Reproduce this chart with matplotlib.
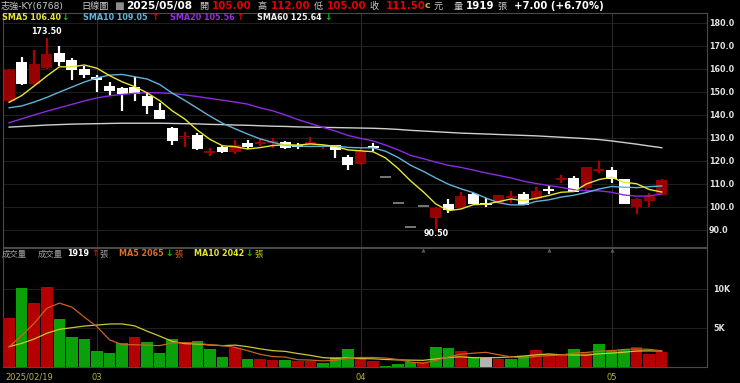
import numpy as np
import matplotlib
matplotlib.use("Agg")
import matplotlib.pyplot as plt
from matplotlib.transforms import blended_transform_factory

plt.rcParams['font.family'] = ['DejaVu Sans', 'Noto Sans CJK TC']

# ---------------- data ----------------
dates = ["2025/02/19", "2025/02/20", "2025/02/21", "2025/02/24", "2025/02/25", "2025/02/26", "2025/02/27",
         "2025/03/03", "2025/03/04", "2025/03/05", "2025/03/06", "2025/03/07", "2025/03/10", "2025/03/11",
         "2025/03/12", "2025/03/13", "2025/03/14", "2025/03/17", "2025/03/18", "2025/03/19", "2025/03/20",
         "2025/03/21", "2025/03/24", "2025/03/25", "2025/03/26", "2025/03/27", "2025/03/28", "2025/03/31",
         "2025/04/01", "2025/04/02", "2025/04/07", "2025/04/08", "2025/04/09", "2025/04/10", "2025/04/11",
         "2025/04/14", "2025/04/15", "2025/04/16", "2025/04/17", "2025/04/18", "2025/04/21", "2025/04/22",
         "2025/04/23", "2025/04/24", "2025/04/25", "2025/04/28", "2025/04/29", "2025/04/30", "2025/05/02",
         "2025/05/05", "2025/05/06", "2025/05/07", "2025/05/08"]

opens = [146.0, 163.0, 153.2, 160.2, 167.0, 163.6, 160.0, 156.3, 152.6, 151.7, 151.9, 148.0, 142.0, 134.1,
         130.2, 131.2, 123.7, 126.1, 123.7, 127.6, 127.5, 128.0, 128.3, 126.4, 127.0, 126.0, 126.8, 121.5,
         118.5, 126.2, 113.0, 101.5, 91.4, 100.5, 95.0, 101.2, 99.3, 105.5, 101.4, 101.8, 104.2, 105.5,
         103.2, 107.3, 111.7, 112.6, 108.0, 115.5, 116.0, 112.0, 99.8, 102.5, 105.0]
highs = [160.0, 165.0, 168.0, 173.5, 170.0, 164.5, 161.0, 157.3, 154.0, 152.0, 156.5, 150.0, 145.2, 134.8,
         132.6, 132.0, 125.7, 126.3, 129.0, 129.0, 129.7, 130.0, 128.5, 127.6, 130.2, 127.4, 127.0, 122.5,
         125.4, 127.6, 113.0, 101.5, 91.4, 100.5, 99.8, 103.2, 106.5, 105.8, 103.6, 105.3, 107.0, 106.2,
         108.5, 109.0, 113.8, 113.5, 117.2, 120.0, 117.4, 112.2, 103.9, 106.0, 112.0]
lows = [145.5, 153.0, 153.0, 160.0, 161.0, 155.0, 156.0, 150.0, 148.3, 141.6, 146.0, 140.2, 138.0, 127.0,
        125.8, 124.7, 122.0, 123.2, 123.0, 125.1, 126.4, 125.7, 125.2, 125.1, 126.8, 125.2, 121.0, 116.0,
        118.3, 124.3, 113.0, 101.5, 91.4, 100.5, 90.5, 97.4, 99.2, 101.0, 99.7, 101.5, 101.8, 100.6,
        103.0, 105.6, 110.2, 106.3, 106.5, 114.5, 110.4, 101.0, 96.8, 100.0, 105.0]
closes = [159.5, 153.5, 162.0, 166.3, 162.8, 159.4, 157.3, 155.2, 150.4, 149.0, 149.2, 143.8, 138.0, 128.7,
          130.8, 125.1, 124.1, 123.7, 126.8, 125.9, 128.0, 128.4, 125.4, 126.2, 128.3, 126.3, 124.7, 118.1,
          124.3, 125.9, 113.0, 101.5, 91.4, 100.5, 99.6, 98.6, 104.7, 101.2, 101.2, 105.1, 104.6, 100.8,
          106.7, 107.1, 112.1, 106.5, 117.1, 116.2, 112.2, 101.2, 103.2, 104.5, 111.5]

sma5 = [145.4, 148.3, 152.5, 156.8, 160.8, 160.8, 161.6, 160.2, 157.0, 154.3, 152.2, 149.5, 146.1, 141.7,
        138.1, 133.3, 129.3, 126.5, 126.1, 125.1, 125.7, 126.6, 126.9, 126.8, 127.3, 126.9, 126.2, 124.7,
        124.3, 123.9, 121.2, 116.6, 111.2, 106.5, 101.2, 98.3, 99.0, 100.9, 101.1, 102.2, 103.4, 102.6,
        103.7, 104.9, 106.3, 106.6, 109.9, 111.8, 112.8, 110.6, 110.0, 107.5, 106.4]
sma10 = [143.0, 143.8, 145.5, 147.5, 149.8, 152.0, 154.2, 156.0, 157.2, 157.5, 156.5, 155.5, 153.1, 149.4,
         146.2, 142.8, 139.4, 136.3, 133.9, 131.6, 129.5, 128.0, 126.7, 126.4, 126.2, 126.3, 126.4, 125.8,
         125.6, 125.6, 124.1, 121.4, 118.0, 115.4, 112.5, 109.8, 107.8, 106.1, 103.8, 101.7, 100.8, 100.8,
         102.3, 103.0, 104.2, 105.0, 106.2, 107.7, 108.8, 108.5, 108.3, 108.7, 109.05]
sma20 = [136.5, 138.2, 139.9, 141.5, 143.0, 144.5, 146.0, 147.3, 148.2, 148.8, 149.3, 149.6, 149.5, 149.2,
         148.6, 147.9, 147.1, 146.3, 145.5, 144.6, 143.0, 141.7, 139.9, 137.9, 136.2, 134.5, 132.9, 131.0,
         129.7, 128.6, 126.8, 124.7, 122.3, 120.9, 119.4, 118.0, 117.1, 115.9, 114.7, 113.6, 112.5, 111.1,
         110.1, 109.2, 108.4, 107.4, 107.0, 106.9, 106.3, 105.1, 104.6, 104.7, 105.56]
sma60 = [134.6, 134.9, 135.2, 135.5, 135.7, 135.9, 136.0, 136.1, 136.2, 136.3, 136.3, 136.3, 136.3, 136.2,
         136.1, 136.0, 135.8, 135.7, 135.5, 135.4, 135.2, 135.0, 134.9, 134.7, 134.6, 134.5, 134.4, 134.3,
         134.2, 134.1, 133.9, 133.6, 133.2, 132.9, 132.6, 132.3, 132.0, 131.8, 131.6, 131.4, 131.2, 131.0,
         130.8, 130.5, 130.2, 129.9, 129.6, 129.2, 128.6, 127.9, 127.2, 126.4, 125.64]

volume = [6320, 10090, 8170, 10220, 6150, 3800, 3590, 2090, 1790, 3030, 3800, 3250, 1840, 3550, 3160, 3380,
          2310, 1280, 2480, 1030, 1030, 900, 900, 810, 810, 510, 1240, 2310, 1220, 810, 130, 350, 600, 580,
          2560, 2390, 2090, 1240, 1110, 1030, 1030, 1430, 2180, 1620, 1450, 2250, 1840, 2950, 2000, 2200,
          2550, 1650, 1919]
vol_ma5 = [2600, 4000, 5600, 7520, 8190, 7686, 6386, 5170, 3484, 2860, 2860, 2792, 2742, 3094, 3120, 3036,
           2848, 2736, 2522, 2096, 1626, 1344, 1268, 934, 890, 786, 854, 1136, 1218, 1218, 1142, 964, 622,
           494, 844, 1296, 1644, 1772, 1878, 1572, 1300, 1168, 1356, 1458, 1542, 1786, 1868, 2022, 2098,
           2248, 2308, 2270, 2065]
vol_ma10 = [2600, 3030, 3590, 4320, 4830, 5040, 5250, 5380, 5510, 5525, 5273, 4589, 3956, 3289, 2990, 2948,
            2820, 2739, 2808, 2608, 2331, 2096, 2002, 1728, 1493, 1206, 1099, 1202, 1076, 1054, 964, 909, 879,
            856, 1031, 1219, 1304, 1197, 1186, 1208, 1298, 1406, 1564, 1668, 1557, 1543, 1518, 1689, 1778,
            1895, 2047, 2069, 2042]

price_ticks = [90, 100, 110, 120, 130, 140, 150, 160, 170, 180]
vol_ticks = [5000, 10000]
vol_tick_labels = ["5K", "10K"]

# ---------------- figure ----------------
W, H = 740, 383
fig = plt.figure(figsize=(W / 100, H / 100), dpi=100, facecolor='black')


def fx(px):
    return px / W


def fy(py):
    return 1 - py / H


def T(x, y, s, color, size, weight='normal', ha='left'):
    fig.text(fx(x), fy(y), s, color=color, fontsize=size, fontweight=weight,
             ha=ha, va='center')


n = len(closes)
idx = np.arange(n)
x_left = (3 - 9.1) / 12.55
x_right = (707 - 9.1) / 12.55

ax_p = fig.add_axes([fx(3), fy(247), (707 - 3) / W, (247 - 13) / H], facecolor='black')
ax_v = fig.add_axes([fx(3), fy(367), (707 - 3) / W, (367 - 248) / H], facecolor='black')

for ax in (ax_p, ax_v):
    ax.set_xlim(x_left, x_right)
    for sp in ax.spines.values():
        sp.set_color('#4a4a4a')
        sp.set_linewidth(0.8)
    ax.set_xticks([])

ax_p.set_ylim(82.5, 184.2)
ax_v.set_ylim(0, 15256)

# month gridlines
month_idx = [0] + [i for i in range(1, n) if dates[i][5:7] != dates[i - 1][5:7]]
for i in month_idx[1:]:
    ax_p.axvline(i, color='#2e2e2e', lw=0.7, zorder=0)
    ax_v.axvline(i, color='#2e2e2e', lw=0.7, zorder=0)

# price grid & labels
ax_p.set_yticks(price_ticks)
ax_p.set_yticklabels([f"{t:.1f}" for t in price_ticks])
ax_p.yaxis.tick_right()
ax_p.tick_params(axis='y', length=0, pad=1.2, labelcolor='#e0e0e0', labelsize=5.8)
for lbl in ax_p.get_yticklabels():
    lbl.set_fontweight('bold')
ax_p.grid(axis='y', color='#262626', lw=0.6, zorder=0)

ax_v.set_yticks(vol_ticks)
ax_v.set_yticklabels(vol_tick_labels)
ax_v.yaxis.tick_right()
ax_v.tick_params(axis='y', length=0, pad=4.5, labelcolor='#e0e0e0', labelsize=5.8)
for lbl in ax_v.get_yticklabels():
    lbl.set_fontweight('bold')
ax_v.grid(axis='y', color='#262626', lw=0.6, zorder=0)

# candles
UP = '#960000'
DOWN = '#ffffff'
for i in range(n):
    o, h, l, c = opens[i], highs[i], lows[i], closes[i]
    if o == c and h == l:
        ax_p.hlines(c, i - 0.45, i + 0.45, color='#8c8c8c', lw=1.2, zorder=3)
        continue
    col = UP if c > o else DOWN
    ax_p.vlines(i, l, h, color=('#b00000' if c > o else DOWN), lw=1.6, zorder=3)
    body = abs(c - o)
    bottom = min(o, c)
    if body < 0.8:
        bottom = (o + c) / 2 - 0.4
        body = 0.8
    ax_p.bar(i, body, bottom=bottom, width=0.88, color=col, edgecolor=col, lw=0, zorder=4)

# moving averages
ax_p.plot(idx, sma60, color='#d0d0d0', lw=1.0, zorder=5)
ax_p.plot(idx, sma20, color='#8a2be2', lw=1.0, zorder=5)
ax_p.plot(idx, sma10, color='#5fb4d8', lw=1.0, zorder=5)
ax_p.plot(idx, sma5, color='#e6e632', lw=1.0, zorder=6)

# high / low labels
imax = int(np.argmax(highs))
imin = int(np.argmin(lows))
ax_p.annotate(f"{highs[imax]:.2f}", (imax, highs[imax]), xytext=(0, 1.5), textcoords='offset points',
              ha='center', va='bottom', color='white', fontsize=5.8, fontweight='bold')
ax_p.annotate(f"{lows[imin]:.2f}", (imin, lows[imin]), xytext=(0, -0.5), textcoords='offset points',
              ha='center', va='top', color='white', fontsize=5.8, fontweight='bold')

# volume bars
vcols = []
for i in range(n):
    prev = closes[i - 1] if i > 0 else opens[0]
    if closes[i] > prev:
        vcols.append('#b40000')
    elif closes[i] < prev:
        vcols.append('#0aa00a')
    else:
        vcols.append('#b4b4b4')
ax_v.bar(idx, volume, width=0.92, color=vcols, lw=0, zorder=3)
ax_v.plot(idx, vol_ma10, color='#c8c832', lw=0.9, zorder=5)
ax_v.plot(idx, vol_ma5, color='#c8641e', lw=0.9, zorder=6)

# event markers
for i in [33, 43, 48]:
    ax_v.plot(i, 15000, marker='^', ms=3, color='#5a5a5a', clip_on=False, zorder=7, mec='none')

# date labels
tr = blended_transform_factory(ax_v.transData, fig.transFigure)
for k, i in enumerate(month_idx):
    if k == 0:
        ax_v.text(i - 0.33, fy(377), dates[i], transform=tr, color='#b4b43c', fontsize=6,
                  ha='left', va='center')
    else:
        ax_v.text(i, fy(377), dates[i][5:7], transform=tr, color='#b4b43c', fontsize=6,
                  ha='center', va='center')

# ---------------- header ----------------
GRAY = '#c8c8c8'
RED = '#e00000'
T(1, 6, "志強-KY(6768)", GRAY, 6.6)
T(81, 6, "日線圖", GRAY, 6.6)
T(114, 6.5, "■", '#8c8c8c', 7.5)
T(126, 6, "2025/05/08", 'white', 7.6, 'bold')
T(199, 6, "開", GRAY, 6.6)
T(212, 6, f"{opens[-1]:.2f}", RED, 7.4, 'bold')
T(257, 6, "高", GRAY, 6.6)
T(271, 6, f"{highs[-1]:.2f}", RED, 7.4, 'bold')
T(314, 6, "低", GRAY, 6.6)
T(327, 6, f"{lows[-1]:.2f}", RED, 7.4, 'bold')
T(369, 6, "收", GRAY, 6.6)
T(386, 6, f"{closes[-1]:.2f}", RED, 7.4, 'bold')
T(425, 6, "c", '#c8b450', 6.8, 'bold')
T(434, 6, "元", GRAY, 6.6)
T(454, 6, "量", GRAY, 6.6)
T(466, 6, f"{volume[-1]}", 'white', 7.4, 'bold')
T(497, 6, "張", GRAY, 6.6)
chg = closes[-1] - closes[-2]
T(514, 6, f"+{chg:.2f} (+{chg / closes[-2] * 100:.2f}%)", 'white', 7.3, 'bold')

# price legend
T(2, 17.3, f"SMA5 {sma5[-1]:.2f}", '#e6e632', 5.8, 'bold')
T(61, 17.3, "↓", '#10c010', 6.5, 'bold')
T(83, 17.3, f"SMA10 {sma10[-1]:.2f}", '#64b4dc', 5.8, 'bold')
T(151, 17.3, "↑", '#e00000', 6.5, 'bold')
T(170, 17.3, f"SMA20 {sma20[-1]:.2f}", '#9632dc', 5.8, 'bold')
T(236, 17.3, "↑", '#e00000', 6.5, 'bold')
T(257, 17.3, f"SMA60 {sma60[-1]:.2f}", '#f0f0f0', 5.8, 'bold')
T(324, 17.3, "↓", '#10c010', 6.5, 'bold')

# volume legend
T(2, 254, "成交量", '#a0a0a0', 6.0)
T(38, 254, "成交量", '#a0a0a0', 6.0)
T(67, 254, f"{volume[-1]}", 'white', 5.8, 'bold')
T(91, 254, "↑", '#e00000', 6.5, 'bold')
T(99, 254, "張", '#a0a0a0', 6.0)
T(119, 254, f"MA5 {vol_ma5[-1]}", '#dc6e28', 5.8, 'bold')
T(165, 254, "↓", '#10c010', 6.5, 'bold')
T(174, 254, "張", '#c8641e', 6.0)
T(194, 254, f"MA10 {vol_ma10[-1]}", '#e6e628', 5.8, 'bold')
T(245, 254, "↓", '#10c010', 6.5, 'bold')
T(254, 254, "張", '#c8c832', 6.0)

fig.savefig("out.png", dpi=100, facecolor='black')
